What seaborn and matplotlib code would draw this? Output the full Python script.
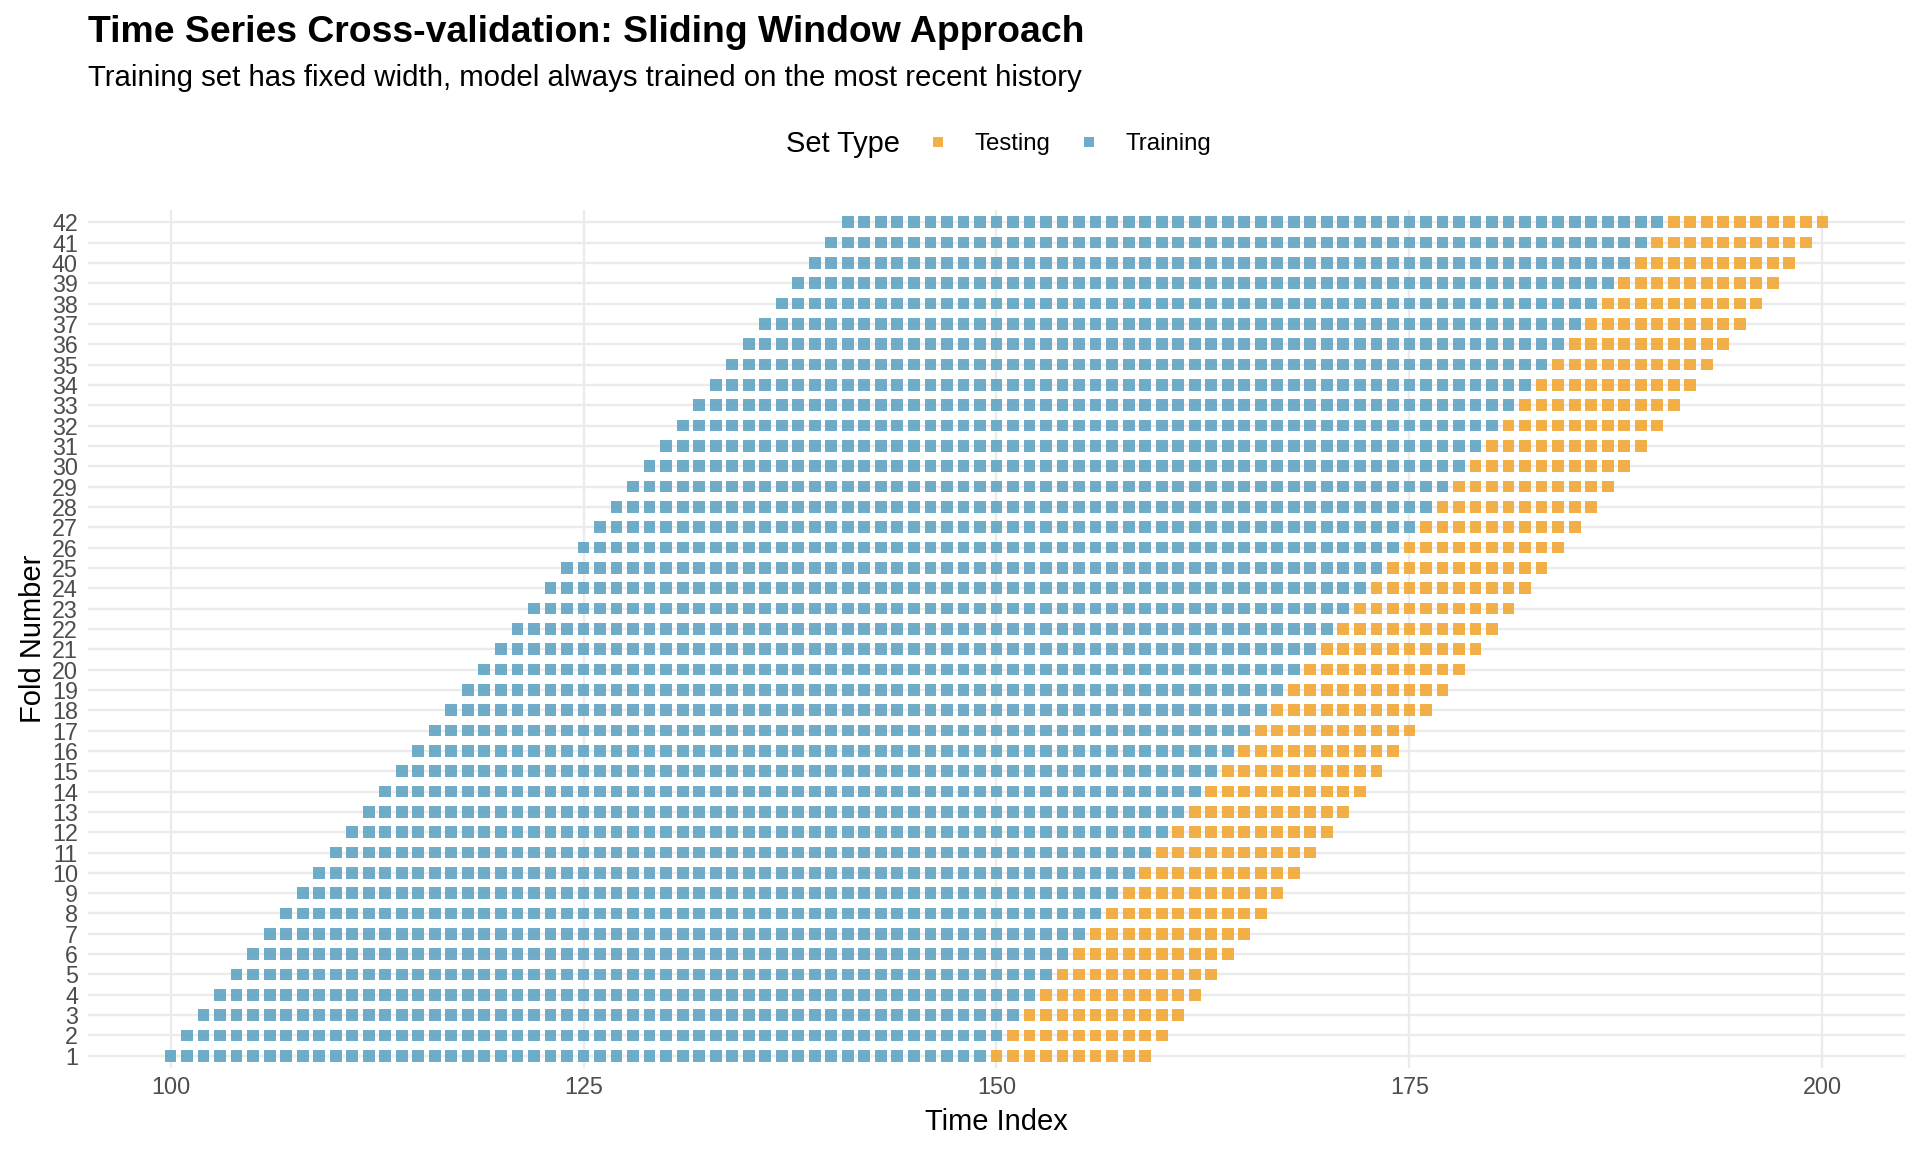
import pandas as pd
import numpy as np
import matplotlib.pyplot as plt
import seaborn as sns

# Fold windows
folds = list(range(1, 43))
train_start = [100, 101, 102, 103, 104, 105, 106, 107, 108, 109, 110, 111, 112, 113,
               114, 115, 116, 117, 118, 119, 120, 121, 122, 123, 124, 125, 126, 127,
               128, 129, 130, 131, 132, 133, 134, 135, 136, 137, 138, 139, 140, 141]
train_len = 50
test_len = 10
x_ticks = [100, 125, 150, 175, 200]
set_types = ["Testing", "Training"]
colors = {"Testing": "#F2A733", "Training": "#5EA3C1"}

# Build long table: one row per time point per fold
rows = []
for fold, start in zip(folds, train_start):
    for t in range(start, start + train_len):
        rows.append((fold, t, "Training"))
    for t in range(start + train_len, start + train_len + test_len):
        rows.append((fold, t, "Testing"))
df = pd.DataFrame(rows, columns=["Fold", "Time", "Set Type"])

sns.set_theme(style="white")
plt.rcParams["font.family"] = ["Liberation Sans", "DejaVu Sans"]
plt.rcParams["text.color"] = "black"

fig = plt.figure(figsize=(16, 9.6), dpi=120)
ax = fig.add_axes([0.0458, 0.0729, 0.9464, 0.7448])

for x in x_ticks:
    ax.axvline(x, color="#EBEBEB", lw=1.4, zorder=0)
for f in folds:
    ax.axhline(f, color="#EBEBEB", lw=1.4, zorder=0)

sns.scatterplot(data=df, x="Time", y="Fold", hue="Set Type", hue_order=set_types,
                palette=colors, marker="s", s=50, linewidth=0, alpha=0.9, ax=ax, zorder=2)

ax.set_xlim(95, 205)
ax.set_ylim(0.4, 42.6)
ax.set_xticks(x_ticks)
ax.set_yticks(folds)
ax.set_yticklabels([str(f) for f in folds])
ax.tick_params(axis="both", labelsize=14, colors="#4D4D4D", length=0)
ax.tick_params(axis="y", pad=6)
ax.tick_params(axis="x", pad=5)
for s in ax.spines.values():
    s.set_visible(False)
ax.set_xlabel("Time Index", fontsize=17.5, color="black", labelpad=5)
ax.set_ylabel("Fold Number", fontsize=17.5, color="black", labelpad=3)

handles, labels = ax.get_legend_handles_labels()
ax.get_legend().remove()
fig.legend(handles, labels, loc="center left", bbox_to_anchor=(926 / 1920, 1 - 144 / 1152),
           ncol=2, frameon=False, fontsize=14.4, markerscale=0.9, borderpad=0,
           borderaxespad=0, handlelength=1.0, handletextpad=1.04, columnspacing=1.08)
fig.text(786 / 1920, 1 - 144 / 1152, "Set Type", fontsize=17.4, va="center", ha="left")

fig.text(88 / 1920, 1 - 32 / 1152, "Time Series Cross-validation: Sliding Window Approach",
         fontsize=22.4, fontweight="bold", va="center", ha="left")
fig.text(88 / 1920, 1 - 78 / 1152,
         "Training set has fixed width, model always trained on the most recent history",
         fontsize=17.6, va="center", ha="left")

fig.savefig("out.png", dpi=120, facecolor="white")
